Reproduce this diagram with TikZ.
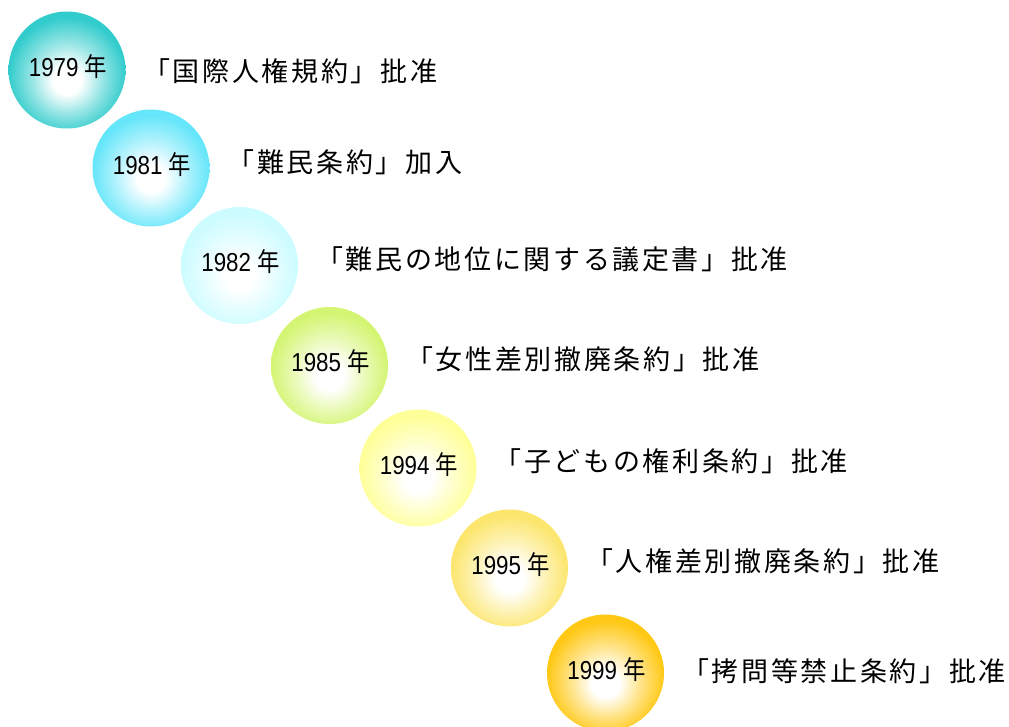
\documentclass[tikz,border=0pt]{standalone}
\usepackage{fontspec}
\usepackage{graphicx}
\setmainfont{Liberation Sans}
\newfontfamily\jp{Noto Sans CJK JP}
\newfontfamily\jpl[LetterSpace=9.8]{Noto Sans CJK JP}
\definecolor{cA}{RGB}{51,204,204}
\definecolor{cB}{RGB}{102,230,250}
\definecolor{cC}{RGB}{204,252,255}
\definecolor{cD}{RGB}{212,245,115}
\definecolor{cE}{RGB}{255,255,153}
\definecolor{cF}{RGB}{252,230,110}
\definecolor{cG}{RGB}{255,200,20}
\newcommand\mkball[2]{\pgfdeclareradialshading{#1}{\pgfpoint{0bp}{-5bp}}{color(0bp)=(white); color(6bp)=(white); color(15bp)=(#2!50!white); color(25bp)=(#2); color(50bp)=(#2)}}
\mkball{ballA}{cA}
\mkball{ballB}{cB}
\mkball{ballC}{cC}
\mkball{ballD}{cD}
\mkball{ballE}{cE}
\mkball{ballF}{cF}
\mkball{ballG}{cG}
\newcommand\yr[1]{\scalebox{0.86}[1]{#1\ {\jp 年}}}
\begin{document}
\begin{tikzpicture}[x=1pt,y=-1pt,
  ball/.style={circle, minimum size=117pt, inner sep=0pt, shading=#1},
  yrlbl/.style={font=\fontsize{26}{26}\selectfont, inner sep=0pt, anchor=base},
  evlbl/.style={font=\fontsize{27}{27}\jpl, inner sep=0pt, anchor=base west}]
\useasboundingbox (0,0) rectangle (1009,726);
\begin{scope}
\clip (0,0) rectangle (1009,726);
\node[ball=ballA] (b1) at (67,70) {};
\node[ball=ballB] (b2) at (151,168) {};
\node[ball=ballC] (b3) at (239.5,265.5) {};
\node[ball=ballD] (b4) at (329.5,365.5) {};
\node[ball=ballE] (b5) at (418,468) {};
\node[ball=ballF] (b6) at (509.5,568) {};
\node[ball=ballG] (b7) at (605.5,673) {};
\end{scope}
\node[yrlbl] (y1) at (68,76) {\yr{1979}};
\node[yrlbl] (y2) at (152,174) {\yr{1981}};
\node[yrlbl] (y3) at (240.5,271.5) {\yr{1982}};
\node[yrlbl] (y4) at (330.5,371.5) {\yr{1985}};
\node[yrlbl] (y5) at (419,474) {\yr{1994}};
\node[yrlbl] (y6) at (510.5,574) {\yr{1995}};
\node[yrlbl] (y7) at (606.5,679) {\yr{1999}};
\node[evlbl] (t1) at (143,81) {「国際人権規約」批准};
\node[evlbl] (t2) at (227.5,172.5) {「難民条約」加入};
\node[evlbl] (t3) at (316,269.5) {「難民の地位に関する議定書」批准};
\node[evlbl] (t4) at (406,369.5) {「女性差別撤廃条約」批准};
\node[evlbl] (t5) at (494.5,471.5) {「子どもの権利条約」批准};
\node[evlbl] (t6) at (586,571.5) {「人権差別撤廃条約」批准};
\node[evlbl] (t7) at (682,681.5) {「拷問等禁止条約」批准};
\end{tikzpicture}
\end{document}
